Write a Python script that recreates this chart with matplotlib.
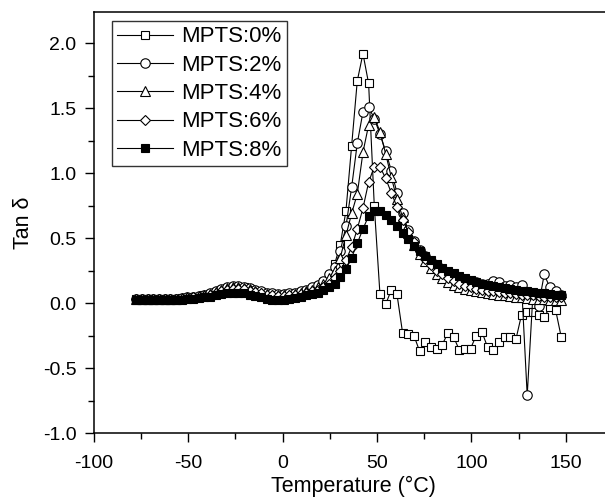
import matplotlib
matplotlib.use('Agg')
import matplotlib.pyplot as plt
from matplotlib.ticker import MultipleLocator

plt.rcParams['font.family'] = ['Liberation Sans', 'DejaVu Sans']
plt.rcParams['axes.unicode_minus'] = False

# temperature grid (deg C), shared by all curves
temp = [-77.4, -74.4, -71.4, -68.4, -65.4, -62.4, -59.4, -56.4, -53.4, -50.4,
        -47.4, -44.4, -41.4, -38.4, -35.4, -32.4, -29.4, -26.4, -23.4, -20.4,
        -17.4, -14.4, -11.4, -8.4, -5.4, -2.4, 0.6, 3.6, 6.6, 9.6,
        12.6, 15.6, 18.6, 21.6, 24.6, 27.6, 30.6, 33.6, 36.6, 39.6,
        42.6, 45.6, 48.6, 51.6, 54.6, 57.6, 60.6, 63.6, 66.6, 69.6,
        72.6, 75.6, 78.6, 81.6, 84.6, 87.6, 90.6, 93.6, 96.6, 99.6,
        102.6, 105.6, 108.6, 111.6, 114.6, 117.6, 120.6, 123.6, 126.6, 129.6,
        132.6, 135.6, 138.6, 141.6, 144.6, 147.6]

tan_0 = [0.03, 0.03, 0.03, 0.03, 0.03, 0.03, 0.03, 0.035, 0.04, 0.04,
         0.045, 0.05, 0.06, 0.07, 0.085, 0.10, 0.115, 0.125, 0.125, 0.12,
         0.11, 0.095, 0.085, 0.075, 0.07, 0.065, 0.065, 0.07, 0.075, 0.085,
         0.095, 0.11, 0.13, 0.16, 0.21, 0.30, 0.45, 0.71, 1.21, 1.71,
         1.92, 1.69, 0.75, 0.07, -0.01, 0.10, 0.07, -0.23, -0.24, -0.25,
         -0.37, -0.30, -0.34, -0.35, -0.32, -0.23, -0.26, -0.36, -0.35, -0.35,
         -0.25, -0.22, -0.34, -0.36, -0.30, -0.26, -0.26, -0.28, -0.09, -0.07,
         -0.07, -0.09, -0.11, -0.03, -0.05, -0.26]

tan_2 = [0.03, 0.03, 0.03, 0.03, 0.03, 0.03, 0.035, 0.035, 0.04, 0.045,
         0.05, 0.055, 0.065, 0.075, 0.09, 0.105, 0.12, 0.13, 0.13, 0.125,
         0.115, 0.10, 0.09, 0.08, 0.075, 0.07, 0.07, 0.075, 0.08, 0.09,
         0.10, 0.12, 0.14, 0.17, 0.22, 0.28, 0.40, 0.59, 0.89, 1.23,
         1.47, 1.51, 1.42, 1.30, 1.17, 1.02, 0.85, 0.69, 0.56, 0.48,
         0.41, 0.36, 0.32, 0.29, 0.26, 0.24, 0.22, 0.20, 0.18, 0.17,
         0.16, 0.15, 0.15, 0.17, 0.16, 0.13, 0.14, 0.12, 0.14, -0.71,
         0.06, -0.02, 0.22, 0.12, 0.09, 0.06]

tan_4 = [0.03, 0.03, 0.03, 0.03, 0.03, 0.03, 0.035, 0.035, 0.04, 0.045,
         0.05, 0.055, 0.06, 0.07, 0.085, 0.10, 0.115, 0.12, 0.12, 0.115,
         0.105, 0.09, 0.08, 0.07, 0.065, 0.06, 0.06, 0.065, 0.07, 0.08,
         0.09, 0.10, 0.12, 0.15, 0.19, 0.25, 0.35, 0.52, 0.69, 0.84,
         1.16, 1.37, 1.43, 1.32, 1.15, 0.97, 0.80, 0.66, 0.54, 0.45,
         0.38, 0.32, 0.27, 0.22, 0.19, 0.16, 0.14, 0.12, 0.11, 0.10,
         0.09, 0.085, 0.08, 0.07, 0.065, 0.06, 0.055, 0.05, 0.045, 0.04,
         0.035, 0.03, 0.03, 0.025, 0.025, 0.02]

tan_6 = [0.03, 0.03, 0.03, 0.03, 0.03, 0.03, 0.03, 0.035, 0.035, 0.04,
         0.045, 0.05, 0.055, 0.065, 0.075, 0.09, 0.10, 0.11, 0.11, 0.105,
         0.095, 0.085, 0.075, 0.065, 0.06, 0.055, 0.055, 0.06, 0.065, 0.07,
         0.08, 0.09, 0.10, 0.12, 0.15, 0.19, 0.25, 0.33, 0.43, 0.57,
         0.73, 0.93, 1.05, 1.05, 0.96, 0.85, 0.74, 0.64, 0.55, 0.47,
         0.40, 0.34, 0.29, 0.25, 0.22, 0.19, 0.17, 0.15, 0.13, 0.12,
         0.11, 0.10, 0.095, 0.09, 0.085, 0.08, 0.075, 0.07, 0.065, 0.06,
         0.06, 0.055, 0.05, 0.05, 0.045, 0.045]

tan_8 = [0.02, 0.02, 0.02, 0.02, 0.02, 0.02, 0.02, 0.025, 0.025, 0.03,
         0.035, 0.04, 0.045, 0.05, 0.06, 0.07, 0.075, 0.08, 0.08, 0.075,
         0.065, 0.055, 0.045, 0.03, 0.025, 0.025, 0.025, 0.035, 0.04, 0.05,
         0.06, 0.07, 0.08, 0.10, 0.12, 0.15, 0.20, 0.26, 0.35, 0.46,
         0.57, 0.67, 0.71, 0.71, 0.68, 0.64, 0.59, 0.54, 0.49, 0.44,
         0.40, 0.36, 0.33, 0.30, 0.27, 0.25, 0.23, 0.21, 0.19, 0.175,
         0.16, 0.15, 0.14, 0.13, 0.12, 0.115, 0.11, 0.10, 0.095, 0.09,
         0.085, 0.08, 0.075, 0.07, 0.065, 0.06]

labels = ['MPTS:0%', 'MPTS:2%', 'MPTS:4%', 'MPTS:6%', 'MPTS:8%']
series = [tan_0, tan_2, tan_4, tan_6, tan_8]
markers = ['s', 'o', '^', 'D', 's']
msizes = [6.3, 6.8, 7.0, 5.6, 6.3]
faces = ['white', 'white', 'white', 'white', 'black']

fig = plt.figure(figsize=(6.05, 5.0), dpi=100)
ax = fig.add_axes([0.1549, 0.134, 0.8582, 0.842])

for y, lab, m, ms, fc in zip(series, labels, markers, msizes, faces):
    ax.plot(temp, y, '-', color='black', lw=0.8, marker=m, ms=ms,
            mfc=fc, mec='black', mew=0.8, label=lab)

ax.set_xlim(-100, 175)
ax.set_ylim(-1.0, 2.24)
ax.xaxis.set_major_locator(MultipleLocator(50))
ax.xaxis.set_minor_locator(MultipleLocator(25))
ax.yaxis.set_major_locator(MultipleLocator(0.5))
ax.yaxis.set_minor_locator(MultipleLocator(0.25))
ax.yaxis.set_major_formatter(matplotlib.ticker.FormatStrFormatter('%.1f'))

for s in ax.spines.values():
    s.set_linewidth(1.1)
ax.spines['right'].set_visible(False)

ax.tick_params(which='major', direction='out', length=6.5, width=1.0,
               labelsize=14, top=False, right=False)
ax.tick_params(which='minor', direction='out', length=4, width=1.0,
               top=False, right=False)
ax.tick_params(axis='x', which='major', pad=9)
ax.tick_params(axis='y', which='major', pad=6)

ax.set_xlabel('Temperature (°C)', fontsize=15.5, labelpad=3)
ax.set_ylabel('Tan δ', fontsize=15.5, labelpad=6)

leg = ax.legend(loc='upper left', bbox_to_anchor=(0.035, 0.979),
                borderaxespad=0, fontsize=16, frameon=True, fancybox=False,
                edgecolor='black', handlelength=2.5, handletextpad=0.35,
                labelspacing=0.33, borderpad=0.25)
leg.get_frame().set_linewidth(1.0)

fig.savefig('out.png', dpi=100)
